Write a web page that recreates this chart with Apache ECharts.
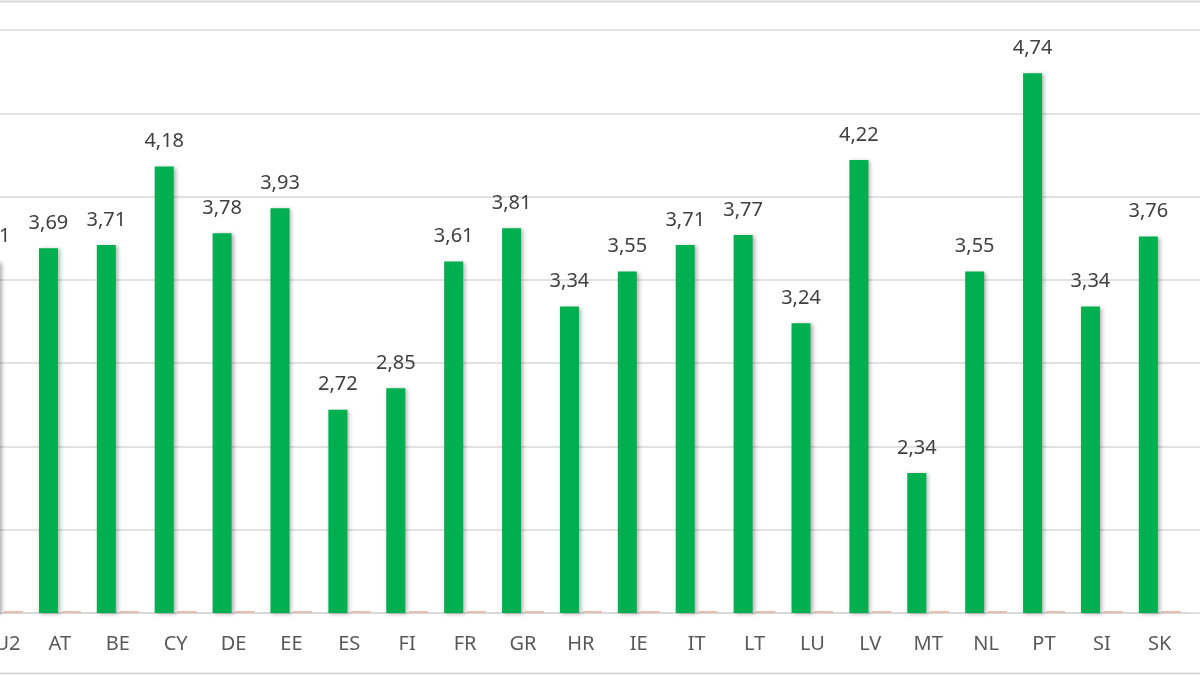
<!DOCTYPE html>
<html>
<head>
<meta charset="utf-8">
<script src="https://cdn.jsdelivr.net/npm/echarts@6/dist/echarts.min.js"></script>
<style>
html,body{margin:0;padding:0;background:#fff;overflow:hidden;width:1200px;height:675px;position:relative;}
#chart{position:absolute;left:-26.8px;top:0;width:1240px;height:675px;}
</style>
</head>
<body>
<div id="chart"></div>
<script>
var categories = ['EU2','AT','BE','CY','DE','EE','ES','FI','FR','GR','HR','IE','IT','LT','LU','LV','MT','NL','PT','SI','SK'];
var values = [3.61,3.69,3.71,4.18,3.78,3.93,2.72,2.85,3.61,3.81,3.34,3.55,3.71,3.77,3.24,4.22,2.34,3.55,4.74,3.34,3.76];
var secondValues = [0,0,0,0,0,0,0,0,0,0,0,0,0,0,0,0,0,0,0,0,0];
var yMin = 1.5, yMax = 5, yStep = 0.5;

var chart = echarts.init(document.getElementById('chart'));
var fontFam = '"Noto Sans", Roboto, sans-serif';
chart.setOption({
  animation: false,
  backgroundColor: '#ffffff',
  grid: [
    {left: 0, right: 24.3, top: 30, bottom: 62},
    {left: 0, right: 0, top: 30, bottom: 62}
  ],
  xAxis: [
    {
      type: 'category', gridIndex: 0, data: categories,
      axisLine: {show: true, lineStyle: {color: '#d9d9d9', width: 2}},
      axisTick: {show: false},
      axisLabel: {color: '#595959', fontSize: 20, fontFamily: fontFam, margin: 21, interval: 0}
    },
    {type: 'category', gridIndex: 1, data: [''], show: false}
  ],
  yAxis: [
    {
      type: 'value', gridIndex: 0, min: yMin, max: yMax, interval: yStep,
      axisLabel: {show: false}, axisLine: {show: false}, axisTick: {show: false},
      splitLine: {show: false}
    },
    {
      type: 'value', gridIndex: 0, min: 0, max: 1, show: false,
      splitLine: {show: false}
    },
    {
      type: 'value', gridIndex: 1, min: yMin, max: yMax, interval: yStep,
      axisLabel: {show: false}, axisLine: {show: false}, axisTick: {show: false},
      splitLine: {show: true, lineStyle: {color: '#d9d9d9', width: 1.5}}
    }
  ],
  graphic: [
    {type: 'line', shape: {x1: 0, y1: 1.5, x2: 1240, y2: 1.5}, style: {stroke: '#d9d9d9', lineWidth: 2}, z: -1},
    {type: 'line', shape: {x1: 0, y1: 673.5, x2: 1240, y2: 673.5}, style: {stroke: '#d9d9d9', lineWidth: 2}, z: -1}
  ],
  series: [
    {
      type: 'bar', xAxisIndex: 0, yAxisIndex: 0, data: values,
      barWidth: 19, barGap: '20%',
      itemStyle: {color: '#00b050', shadowBlur: 4, shadowColor: 'rgba(0,0,0,0.3)', shadowOffsetX: 2, shadowOffsetY: 1},
      label: {
        show: true, position: 'top', distance: 15,
        color: '#404040', fontSize: 20, fontFamily: fontFam,
        formatter: function(p){ return p.value.toFixed(2).replace('.', ','); }
      },
      z: 3
    },
    {
      type: 'bar', xAxisIndex: 0, yAxisIndex: 1, data: secondValues,
      barWidth: 19, barGap: '20%', barMinHeight: 2,
      itemStyle: {color: '#e6bfae'},
      z: 2
    }
  ]
});
</script>
</body>
</html>
